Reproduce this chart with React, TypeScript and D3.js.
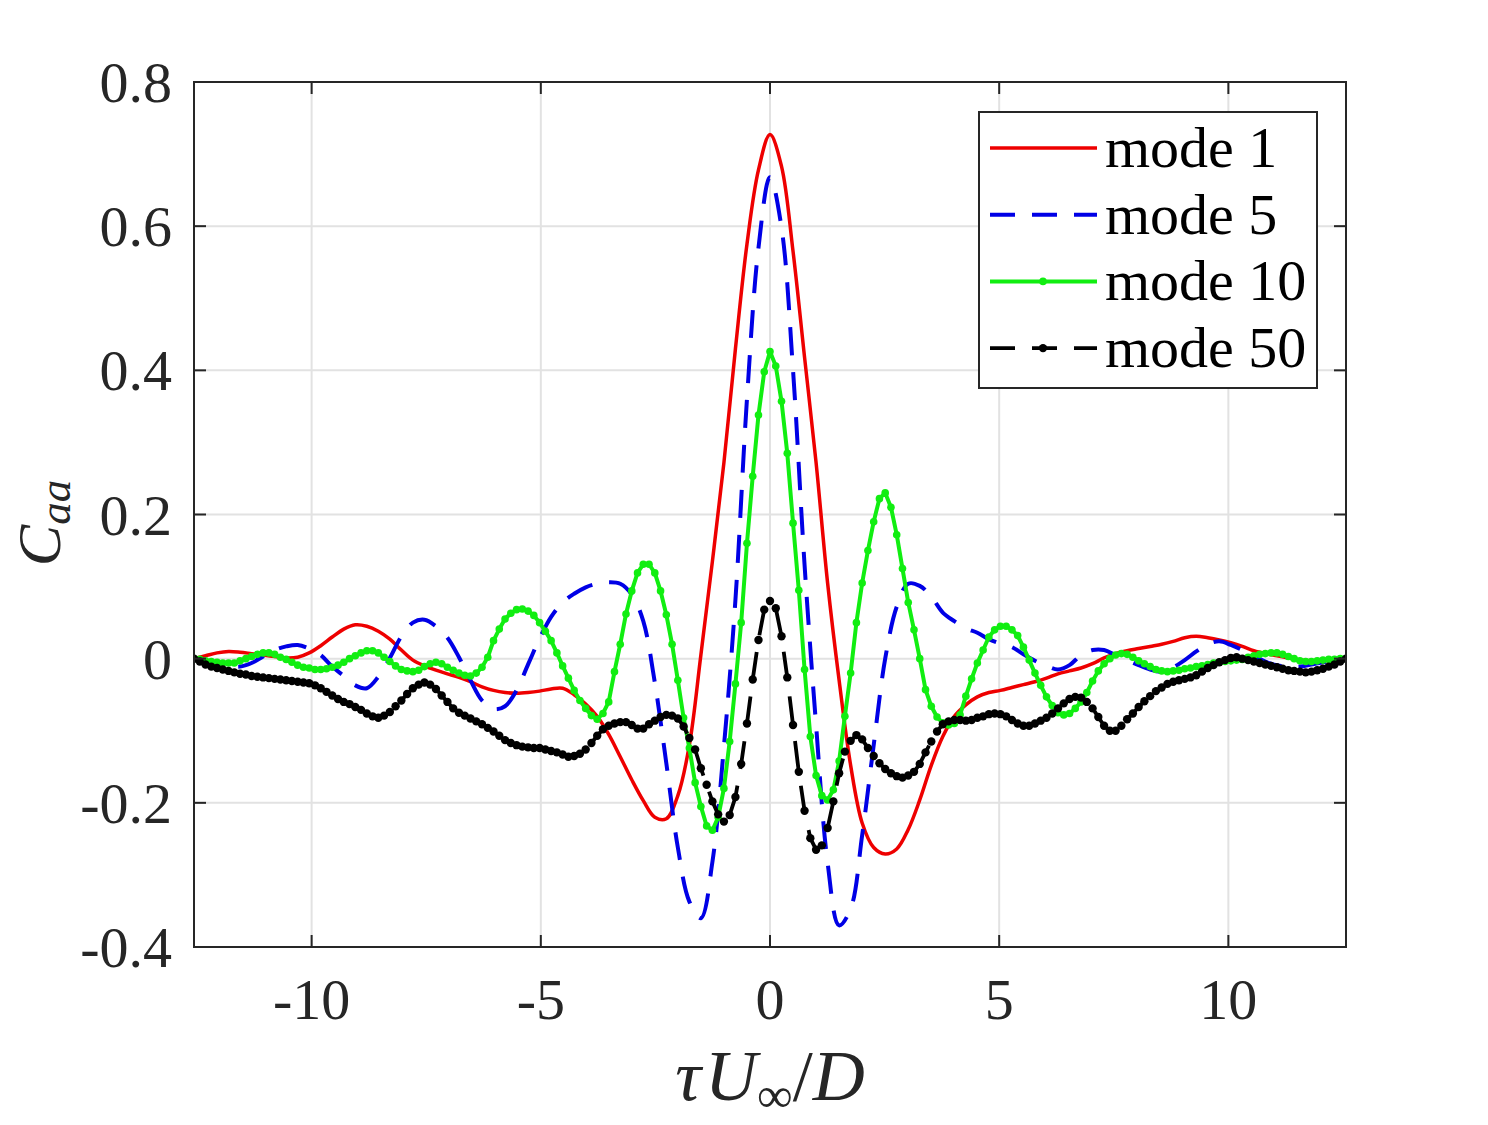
import { useEffect, useRef } from "react";
import * as d3 from "d3";

const WIDTH = 1488;
const HEIGHT = 1125;

// lag grid, tau*U/D from -4pi to 4pi
const TAU_STEP = (4 * Math.PI) / 100;
const tauFine = d3.range(-100, 101).map((k) => k * TAU_STEP);
const tauCoarse = d3.range(-50, 51).map((k) => k * 2 * TAU_STEP);

const mode1 = [
  0, 0.004, 0.008, 0.01, 0.009, 0.007, 0.005, 0.003, 0.001, 0.002,
  0.008, 0.018, 0.03, 0.041, 0.047, 0.045, 0.038, 0.027, 0.012, -0.002,
  -0.01, -0.016, -0.021, -0.026, -0.032, -0.039, -0.044, -0.047, -0.048, -0.047,
  -0.045, -0.042, -0.041, -0.05, -0.063, -0.08, -0.105, -0.136, -0.168, -0.197,
  -0.22, -0.222, -0.19, -0.12, 0.005, 0.135, 0.272, 0.43, 0.575, 0.678,
  0.727,
  0.683, 0.565, 0.418, 0.272, 0.105, -0.03, -0.148, -0.228, -0.262, -0.271,
  -0.264, -0.237, -0.196, -0.148, -0.108, -0.08, -0.064, -0.053, -0.047, -0.044,
  -0.04, -0.036, -0.032, -0.027, -0.021, -0.017, -0.013, -0.007, 0.001, 0.007,
  0.011, 0.014, 0.017, 0.02, 0.024, 0.029, 0.031, 0.029, 0.026, 0.022,
  0.017, 0.011, 0.007, 0.004, 0.001, -0.002, -0.003, -0.003, -0.002, 0,
];

const mode5 = [
  0, -0.003, -0.007, -0.01, -0.011, -0.006, 0.003, 0.012, 0.017, 0.019,
  0.014, 0.005, -0.011, -0.024, -0.037, -0.041, -0.025, 0.001, 0.031, 0.05,
  0.054, 0.045, 0.029, 0.002, -0.03, -0.058, -0.07, -0.066, -0.044, -0.008,
  0.028, 0.058, 0.078, 0.09, 0.099, 0.104, 0.106, 0.104, 0.089, 0.052,
  -0.033, -0.145, -0.262, -0.337, -0.36, -0.282, -0.122, 0.082, 0.36, 0.57,
  0.668,
  0.598, 0.4, 0.13, -0.092, -0.283, -0.37, -0.347, -0.245, -0.12, 0.0,
  0.072, 0.104, 0.101, 0.086, 0.064, 0.052, 0.042, 0.036, 0.027, 0.021,
  0.016, 0.006, -0.003, -0.01, -0.015, -0.009, 0.005, 0.012, 0.012, 0.005,
  -0.002, -0.009, -0.015, -0.018, -0.012, -0.002, 0.01, 0.02, 0.024, 0.019,
  0.012, 0.004, -0.004, -0.009, -0.011, -0.011, -0.008, -0.005, -0.002, 0,
];

const mode10 = [
  0, -0.001, -0.003, -0.004, -0.005, -0.006, -0.006, -0.006, -0.003, 0.0,
  0.003, 0.006, 0.008, 0.008, 0.006, 0.002, -0.001, -0.005, -0.009, -0.012,
  -0.013, -0.015, -0.015, -0.014, -0.012, -0.009, -0.005, 0.0, 0.004, 0.008,
  0.011, 0.011, 0.008, 0.002, -0.004, -0.01, -0.015, -0.017, -0.018, -0.016,
  -0.011, -0.007, -0.005, -0.007, -0.012, -0.016, -0.02, -0.023, -0.024, -0.02,
  -0.012, 0.002, 0.025, 0.041, 0.055, 0.063, 0.068, 0.069, 0.066, 0.06,
  0.05, 0.038, 0.025, 0.008, -0.01, -0.027, -0.044, -0.058, -0.069, -0.079,
  -0.084, -0.076, -0.06, -0.018, 0.02, 0.062, 0.094, 0.119, 0.131, 0.131,
  0.119, 0.094, 0.061, 0.02, -0.03, -0.082, -0.124, -0.172, -0.205, -0.232,
  -0.238, -0.22, -0.18, -0.115, -0.035, 0.05, 0.16, 0.253, 0.338, 0.398,
  0.426,
  0.406, 0.357, 0.285, 0.188, 0.095, -0.015, -0.108, -0.162, -0.19, -0.196,
  -0.182, -0.142, -0.08, -0.02, 0.05, 0.105, 0.15, 0.19, 0.222, 0.23,
  0.21, 0.172, 0.125, 0.078, 0.04, 0.0, -0.043, -0.066, -0.081, -0.089,
  -0.092, -0.09, -0.078, -0.052, -0.028, -0.006, 0.012, 0.03, 0.04, 0.045,
  0.045, 0.04, 0.032, 0.016, -0.002, -0.02, -0.037, -0.053, -0.065, -0.075,
  -0.078, -0.076, -0.069, -0.06, -0.047, -0.031, -0.017, -0.007, 0.0, 0.005,
  0.007, 0.006, 0.002, -0.003, -0.007, -0.011, -0.015, -0.017, -0.018, -0.017,
  -0.016, -0.014, -0.013, -0.011, -0.01, -0.008, -0.006, -0.005, -0.004, -0.003,
  -0.002, -0.001, 0.002, 0.004, 0.006, 0.007, 0.008, 0.008, 0.006, 0.003,
  0.0, -0.003, -0.004, -0.004, -0.003, -0.002, -0.001, -0.001, 0.0, 0,
];

const mode50 = [
  0, -0.004, -0.008, -0.011, -0.013, -0.015, -0.017, -0.019, -0.021, -0.022,
  -0.024, -0.025, -0.026, -0.027, -0.028, -0.029, -0.03, -0.031, -0.032, -0.033,
  -0.034, -0.037, -0.041, -0.046, -0.051, -0.056, -0.06, -0.063, -0.067, -0.071,
  -0.076, -0.08, -0.082, -0.079, -0.074, -0.066, -0.058, -0.049, -0.041, -0.036,
  -0.033, -0.036, -0.042, -0.051, -0.06, -0.069, -0.075, -0.079, -0.083, -0.087,
  -0.091, -0.096, -0.101, -0.107, -0.113, -0.117, -0.12, -0.122, -0.123, -0.124,
  -0.124, -0.126, -0.128, -0.13, -0.133, -0.136, -0.135, -0.132, -0.126, -0.117,
  -0.107, -0.098, -0.093, -0.09, -0.088, -0.088, -0.092, -0.097, -0.097, -0.091,
  -0.086, -0.081, -0.078, -0.079, -0.083, -0.094, -0.11, -0.126, -0.152, -0.175,
  -0.198, -0.216, -0.226, -0.217, -0.192, -0.146, -0.09, -0.029, 0.026, 0.068,
  0.08,
  0.07, 0.031, -0.026, -0.092, -0.157, -0.211, -0.249, -0.265, -0.259, -0.235,
  -0.198, -0.159, -0.129, -0.114, -0.106, -0.112, -0.124, -0.135, -0.145, -0.153,
  -0.159, -0.163, -0.165, -0.162, -0.157, -0.146, -0.13, -0.115, -0.101, -0.091,
  -0.087, -0.085, -0.085, -0.086, -0.085, -0.082, -0.08, -0.077, -0.076, -0.077,
  -0.08, -0.085, -0.09, -0.093, -0.093, -0.09, -0.086, -0.082, -0.076, -0.069,
  -0.062, -0.056, -0.053, -0.054, -0.06, -0.069, -0.081, -0.093, -0.1, -0.1,
  -0.093, -0.084, -0.076, -0.067, -0.059, -0.052, -0.045, -0.04, -0.035, -0.032,
  -0.03, -0.028, -0.026, -0.023, -0.018, -0.013, -0.009, -0.005, -0.002, 0.001,
  0.002, 0.0, -0.002, -0.004, -0.006, -0.008, -0.01, -0.012, -0.014, -0.016,
  -0.017, -0.018, -0.019, -0.018, -0.016, -0.014, -0.011, -0.008, -0.004, 0,
];

const xTicks = [-10, -5, 0, 5, 10];
const xTickLabels = ["-10", "-5", "0", "5", "10"];
const yTicks = [-0.4, -0.2, 0, 0.2, 0.4, 0.6, 0.8];
const yTickLabels = ["-0.4", "-0.2", "0", "0.2", "0.4", "0.6", "0.8"];
const legendLabels = ["mode 1", "mode 5", "mode 10", "mode 50"];

const FONT = "'Liberation Serif', 'DejaVu Serif', serif";
const AXIS_COLOR = "#262626";

interface Series {
  label: string;
  tau: number[];
  values: number[];
  color: string;
  width: number;
  dash: string | null;
  dot: number;
  smooth: boolean;
}

const series: Series[] = [
  { label: legendLabels[0], tau: tauCoarse, values: mode1, color: "#ee0000", width: 3.5, dash: null, dot: 0, smooth: true },
  { label: legendLabels[1], tau: tauCoarse, values: mode5, color: "#0000e6", width: 4, dash: "28 17", dot: 0, smooth: true },
  { label: legendLabels[2], tau: tauFine, values: mode10, color: "#11ee11", width: 4, dash: null, dot: 3.8, smooth: false },
  { label: legendLabels[3], tau: tauFine, values: mode50, color: "#000000", width: 3.8, dash: "28 17", dot: 4.2, smooth: false },
];

export default function App() {
  const svgRef = useRef<SVGSVGElement>(null);

  useEffect(() => {
    document.body.style.margin = "0";
    const svgEl = svgRef.current;
    if (!svgEl) return;

    const svg = d3.select(svgEl);
    svg.selectAll("*").remove();

    const margin = { top: 82, right: 142, bottom: 178, left: 194 };
    const x = d3
      .scaleLinear()
      .domain([-4 * Math.PI, 4 * Math.PI])
      .range([margin.left, WIDTH - margin.right]);
    const y = d3
      .scaleLinear()
      .domain([-0.4, 0.8])
      .range([HEIGHT - margin.bottom, margin.top]);

    const [x0, x1] = x.range();
    const [y0, y1] = y.range();

    svg.append("rect").attr("width", WIDTH).attr("height", HEIGHT).attr("fill", "#fff");

    svg
      .append("defs")
      .append("clipPath")
      .attr("id", "plot-clip")
      .append("rect")
      .attr("x", x0)
      .attr("y", y1)
      .attr("width", x1 - x0)
      .attr("height", y0 - y1);

    // grid
    const grid = svg.append("g").attr("stroke", "#e2e2e2").attr("stroke-width", 2);
    grid
      .selectAll("line.gx")
      .data(xTicks)
      .enter()
      .append("line")
      .attr("x1", (d) => x(d))
      .attr("x2", (d) => x(d))
      .attr("y1", y1)
      .attr("y2", y0);
    grid
      .selectAll("line.gy")
      .data(yTicks.slice(1, -1))
      .enter()
      .append("line")
      .attr("y1", (d) => y(d))
      .attr("y2", (d) => y(d))
      .attr("x1", x0)
      .attr("x2", x1);

    // curves
    const plot = svg.append("g").attr("clip-path", "url(#plot-clip)");
    series.forEach((s) => {
      const pts = s.tau.map((t, i) => [t, s.values[i]] as [number, number]);
      const line = d3
        .line<[number, number]>()
        .x((d) => x(d[0]))
        .y((d) => y(d[1]))
        .curve(s.smooth ? d3.curveCatmullRom.alpha(0.5) : d3.curveLinear);
      plot
        .append("path")
        .datum(pts)
        .attr("d", line)
        .attr("fill", "none")
        .attr("stroke", s.color)
        .attr("stroke-width", s.width)
        .attr("stroke-linejoin", "round")
        .attr("stroke-dasharray", s.dash);
      if (s.dot > 0) {
        plot
          .append("g")
          .selectAll("circle")
          .data(pts)
          .enter()
          .append("circle")
          .attr("cx", (d) => x(d[0]))
          .attr("cy", (d) => y(d[1]))
          .attr("r", s.dot)
          .attr("fill", s.color);
      }
    });

    // box and inward ticks
    const axes = svg.append("g").attr("stroke", AXIS_COLOR).attr("stroke-width", 2);
    const tickLen = 12;
    xTicks.forEach((t) => {
      axes.append("line").attr("x1", x(t)).attr("x2", x(t)).attr("y1", y0).attr("y2", y0 - tickLen);
      axes.append("line").attr("x1", x(t)).attr("x2", x(t)).attr("y1", y1).attr("y2", y1 + tickLen);
    });
    yTicks.forEach((t) => {
      axes.append("line").attr("y1", y(t)).attr("y2", y(t)).attr("x1", x0).attr("x2", x0 + tickLen);
      axes.append("line").attr("y1", y(t)).attr("y2", y(t)).attr("x1", x1).attr("x2", x1 - tickLen);
    });
    axes
      .append("rect")
      .attr("x", x0)
      .attr("y", y1)
      .attr("width", x1 - x0)
      .attr("height", y0 - y1)
      .attr("fill", "none");

    // tick labels
    const labels = svg
      .append("g")
      .attr("font-family", FONT)
      .attr("font-size", 58)
      .attr("fill", AXIS_COLOR);
    labels
      .selectAll("text.xl")
      .data(xTicks)
      .enter()
      .append("text")
      .attr("x", (d) => x(d))
      .attr("y", y0 + 72)
      .attr("text-anchor", "middle")
      .text((_d, i) => xTickLabels[i]);
    labels
      .selectAll("text.yl")
      .data(yTicks)
      .enter()
      .append("text")
      .attr("x", x0 - 22)
      .attr("y", (d) => y(d) + 20)
      .attr("text-anchor", "end")
      .text((_d, i) => yTickLabels[i]);

    // axis titles
    const xTitle = svg
      .append("text")
      .attr("x", (x0 + x1) / 2)
      .attr("y", 1100)
      .attr("text-anchor", "middle")
      .attr("font-family", FONT)
      .attr("font-size", 72)
      .attr("font-style", "italic")
      .attr("fill", AXIS_COLOR);
    xTitle.append("tspan").text("τ");
    xTitle.append("tspan").attr("dx", 4).text("U");
    xTitle.append("tspan").attr("font-size", 50).attr("font-style", "normal").attr("dy", 12).text("∞");
    xTitle.append("tspan").attr("dy", -12).attr("font-style", "normal").text("/");
    xTitle.append("tspan").text("D");

    const yTitle = svg
      .append("text")
      .attr("transform", `translate(60, 523) rotate(-90)`)
      .attr("text-anchor", "middle")
      .attr("font-family", FONT)
      .attr("font-size", 62)
      .attr("font-style", "italic")
      .attr("fill", AXIS_COLOR);
    yTitle.append("tspan").text("C");
    yTitle.append("tspan").attr("font-size", 45).attr("dy", 10).text("aa");

    // legend
    const legend = svg.append("g");
    legend
      .append("rect")
      .attr("x", 979)
      .attr("y", 112)
      .attr("width", 338)
      .attr("height", 276)
      .attr("fill", "#fff")
      .attr("stroke", AXIS_COLOR)
      .attr("stroke-width", 2);
    series.forEach((s, i) => {
      const ly = 148 + i * 66.7;
      legend
        .append("line")
        .attr("x1", 990)
        .attr("x2", 1097)
        .attr("y1", ly)
        .attr("y2", ly)
        .attr("stroke", s.color)
        .attr("stroke-width", s.width)
        .attr("stroke-dasharray", s.dash ? "25 17" : null);
      if (s.dot > 0) {
        legend.append("circle").attr("cx", 1043).attr("cy", ly).attr("r", s.dot).attr("fill", s.color);
      }
      legend
        .append("text")
        .attr("x", 1105)
        .attr("y", ly + 19)
        .attr("font-family", FONT)
        .attr("font-size", 58)
        .attr("fill", "#000")
        .text(s.label);
    });
  }, []);

  return <svg ref={svgRef} width={WIDTH} height={HEIGHT} style={{ display: "block" }} />;
}
